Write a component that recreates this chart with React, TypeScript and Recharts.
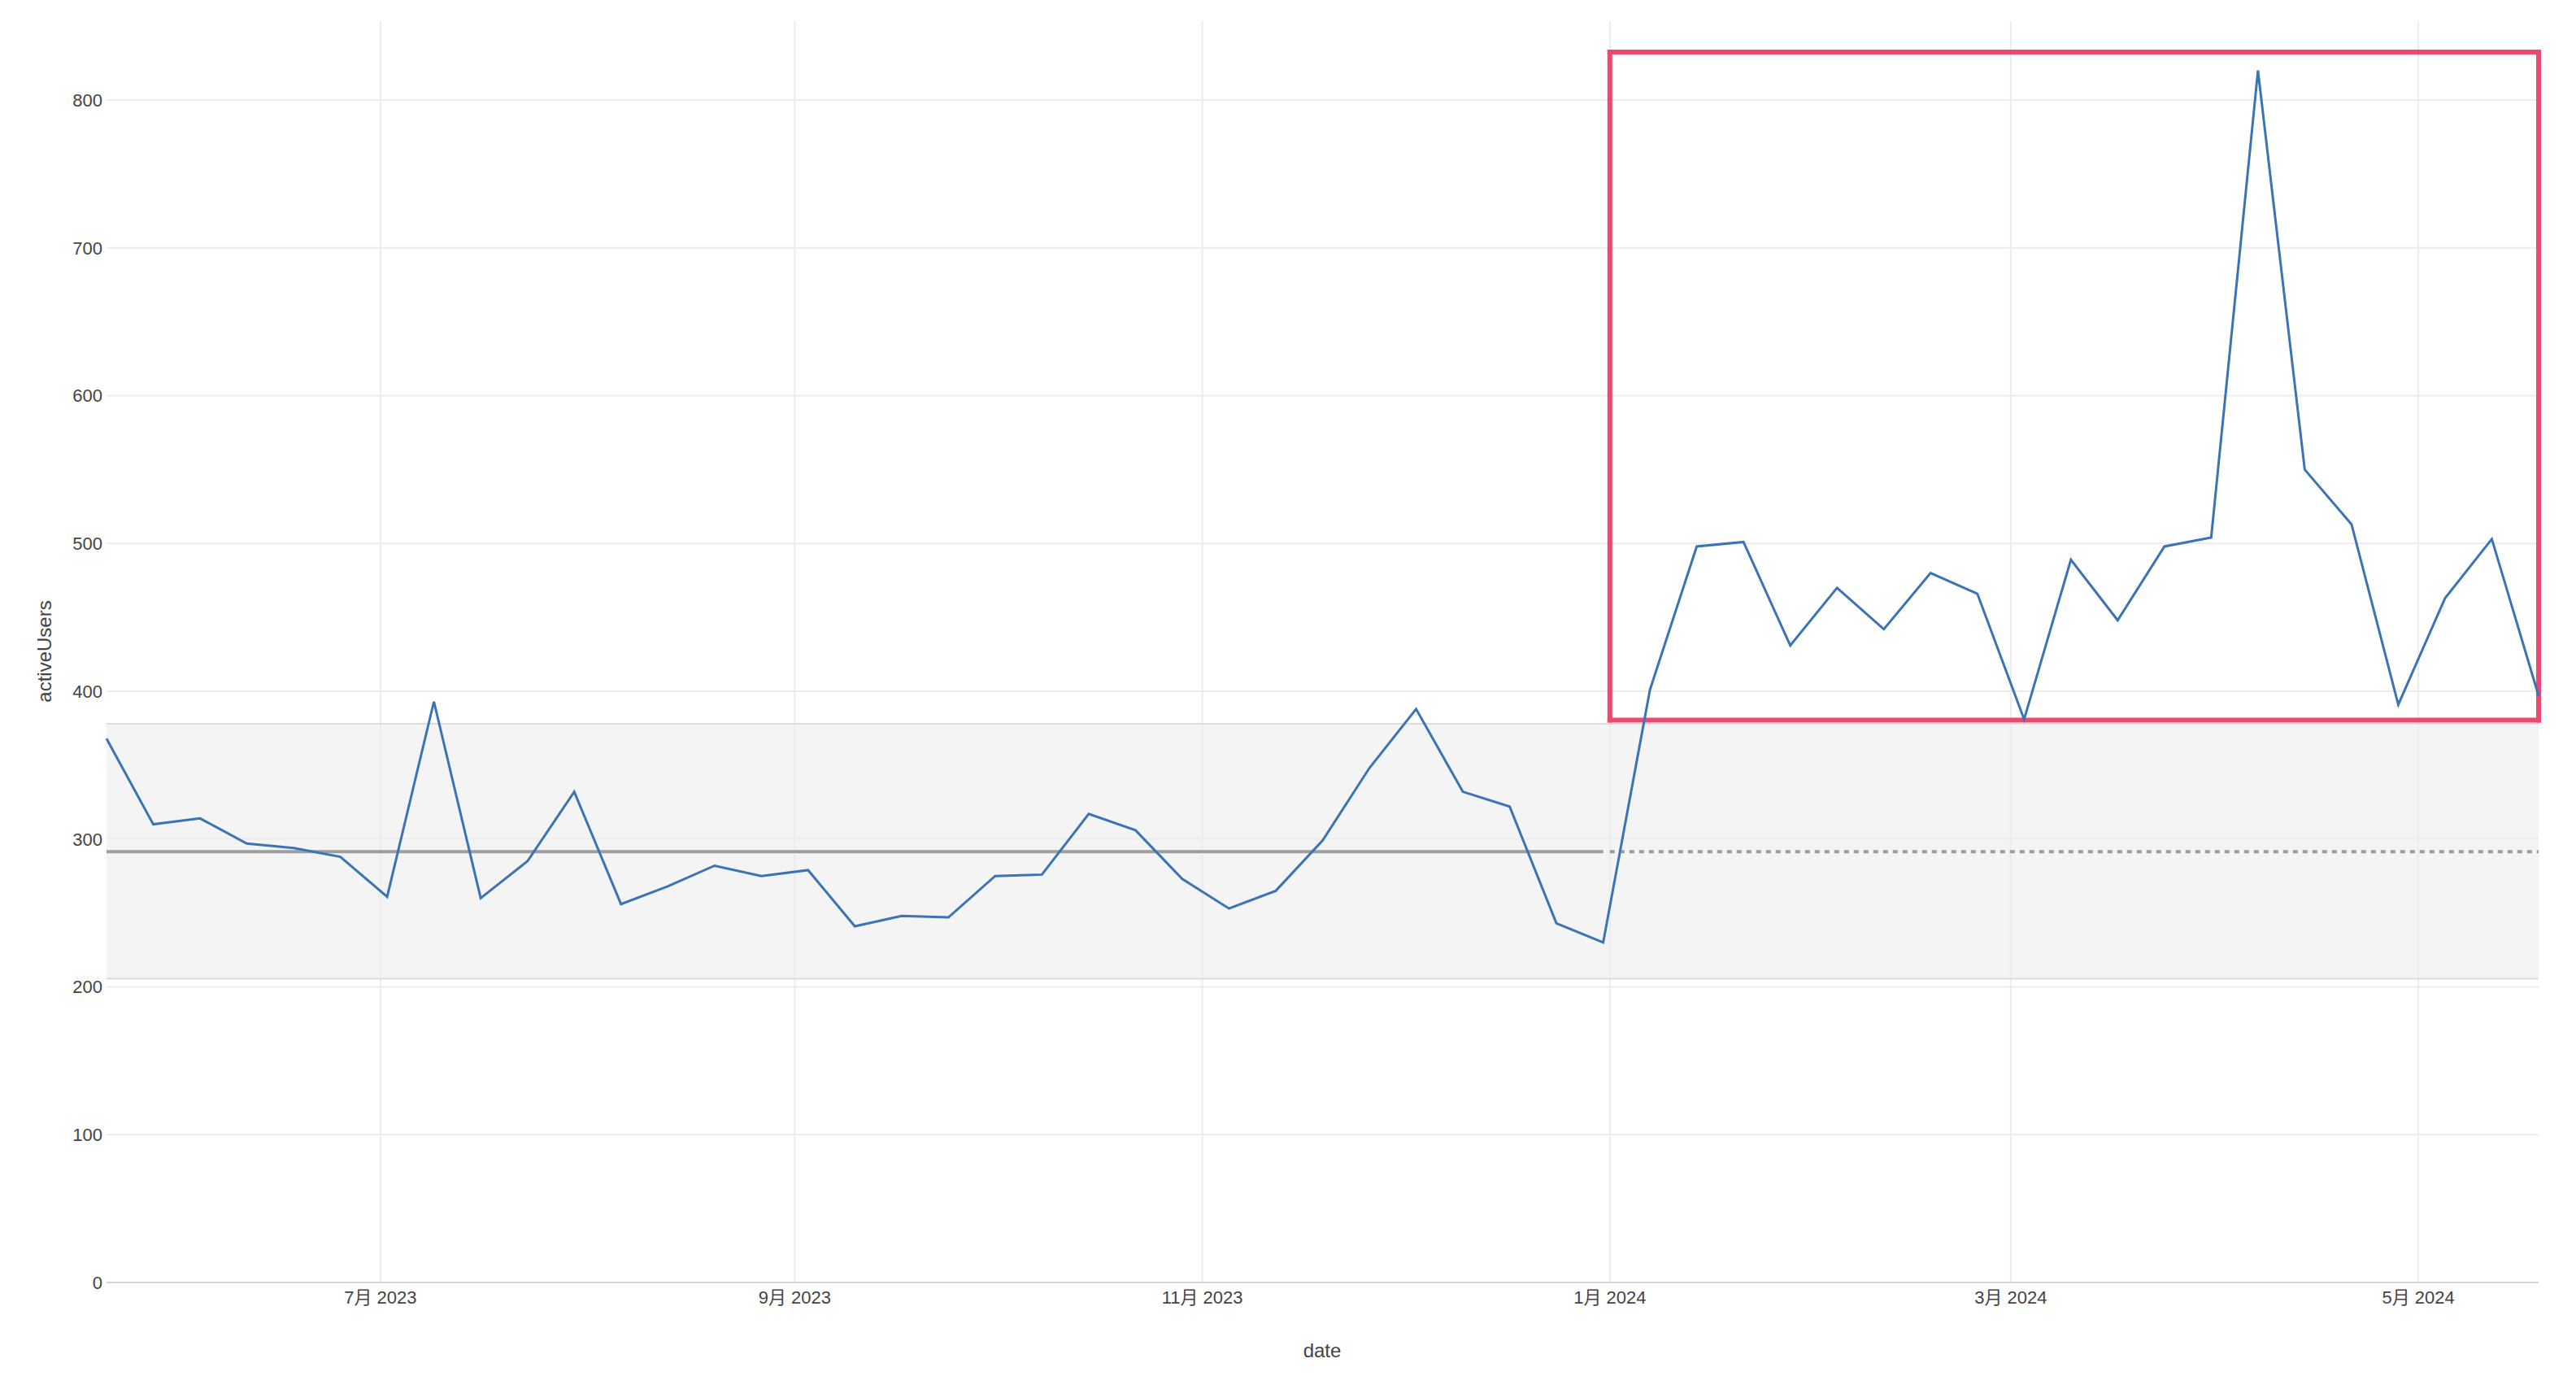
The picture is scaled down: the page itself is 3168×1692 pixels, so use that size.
import React from 'react'
import {
  LineChart,
  Line,
  XAxis,
  YAxis,
  ReferenceArea,
  ReferenceLine,
} from 'recharts'

// weekly buckets (week start, Sunday)
const weeks = [
  '2023-05-21', '2023-05-28', '2023-06-04', '2023-06-11', '2023-06-18', '2023-06-25',
  '2023-07-02', '2023-07-09', '2023-07-16', '2023-07-23', '2023-07-30', '2023-08-06',
  '2023-08-13', '2023-08-20', '2023-08-27', '2023-09-03', '2023-09-10', '2023-09-17',
  '2023-09-24', '2023-10-01', '2023-10-08', '2023-10-15', '2023-10-22', '2023-10-29',
  '2023-11-05', '2023-11-12', '2023-11-19', '2023-11-26', '2023-12-03', '2023-12-10',
  '2023-12-17', '2023-12-24', '2023-12-31', '2024-01-07', '2024-01-14', '2024-01-21',
  '2024-01-28', '2024-02-04', '2024-02-11', '2024-02-18', '2024-02-25', '2024-03-03',
  '2024-03-10', '2024-03-17', '2024-03-24', '2024-03-31', '2024-04-07', '2024-04-14',
  '2024-04-21', '2024-04-28', '2024-05-05', '2024-05-12', '2024-05-19',
]

const activeUsers = [
  368, 310, 314, 297, 294, 288, 261, 393, 260, 285, 332, 256,
  268, 282, 275, 279, 241, 248, 247, 275, 276, 317, 306, 273,
  253, 265, 299, 348, 388, 332, 322, 243, 230, 401, 498, 501,
  431, 470, 442, 480, 466, 381, 489, 448, 498, 504, 820, 550,
  513, 391, 463, 503, 397,
]

const tickDates = ['2023-07-01', '2023-09-01', '2023-11-01', '2024-01-01', '2024-03-01', '2024-05-01']
const tickLabels = ['7月 2023', '9月 2023', '11月 2023', '1月 2024', '3月 2024', '5月 2024']
const yTicks = [0, 100, 200, 300, 400, 500, 600, 700, 800]

// baseline stats for 2023 and the 2024 highlight box
const meanValue = 291.5
const bandLow = 205.5
const bandHigh = 378
const baselineEnd = '2023-12-31'
const projectionStart = '2024-01-01'
const highlightLow = 380.5
const highlightHigh = 832.5

const ts = (d: string) => new Date(d).getTime()

const data = weeks.map((w, i) => ({ date: ts(w), activeUsers: activeUsers[i] }))
const xTicks = tickDates.map(ts)
const firstDate = ts(weeks[0])
const lastDate = ts(weeks[weeks.length - 1])

// highlight box corners (data space)
const hx1 = ts(projectionStart)
const hx2 = lastDate
const boxEdges = [
  [{ x: hx1, y: highlightLow }, { x: hx2, y: highlightLow }],
  [{ x: hx1, y: highlightHigh }, { x: hx2, y: highlightHigh }],
  [{ x: hx1, y: highlightLow }, { x: hx1, y: highlightHigh }],
  [{ x: hx2, y: highlightLow }, { x: hx2, y: highlightHigh }],
]

const FONT = '"Liberation Sans", Arial, "Noto Sans CJK JP", sans-serif'
const TEXT = '#444'
const GRID = '#ececec'
const RED = '#e94a6e'

export default function App() {
  return (
    <div style={{ position: 'absolute', left: 0, top: 0, width: 3168, height: 1692, background: '#fff' }}>
      <LineChart
        width={3168}
        height={1692}
        data={data}
        margin={{ top: 26, right: 46, left: 0, bottom: 0 }}
        style={{ fontFamily: FONT }}
      >
        {/* grid */}
        {yTicks.map((t) => (
          <ReferenceLine key={'gy' + t} y={t} stroke={GRID} strokeWidth={2} />
        ))}
        {xTicks.map((t) => (
          <ReferenceLine key={'gx' + t} x={t} stroke={GRID} strokeWidth={2} />
        ))}

        <ReferenceArea y1={bandLow} y2={bandHigh} fill="#000" fillOpacity={0.045} stroke="none" />
        <ReferenceLine y={bandHigh} stroke="#dcdcdc" strokeWidth={2} />
        <ReferenceLine y={bandLow} stroke="#dcdcdc" strokeWidth={2} />
        <ReferenceLine
          segment={[{ x: firstDate, y: meanValue }, { x: ts(baselineEnd), y: meanValue }]}
          stroke="#9e9e9e"
          strokeWidth={4}
        />
        <ReferenceLine
          segment={[{ x: ts(projectionStart), y: meanValue }, { x: lastDate, y: meanValue }]}
          stroke="#9e9e9e"
          strokeWidth={4}
          strokeDasharray="6 6"
        />

        {boxEdges.map((seg, i) => (
          <ReferenceLine
            key={'box' + i}
            segment={seg}
            stroke={RED}
            strokeWidth={6}
            strokeLinecap="square"
            ifOverflow="visible"
          />
        ))}

        <XAxis
          dataKey="date"
          type="number"
          scale="time"
          domain={[firstDate, lastDate]}
          ticks={xTicks}
          tickFormatter={(v: number) => tickLabels[xTicks.indexOf(v)]}
          height={115}
          tickLine={false}
          tickSize={0}
          tickMargin={10}
          axisLine={{ stroke: '#d4d4d4', strokeWidth: 2 }}
          tick={{ fill: TEXT, fontSize: 22, fontFamily: FONT }}
          label={{
            content: () => (
              <text x={1626} y={1669} textAnchor="middle" fill={TEXT} fontSize={24} fontFamily={FONT}>
                date
              </text>
            ),
          }}
        />
        <YAxis
          type="number"
          domain={[0, 853.4]}
          ticks={yTicks}
          width={131}
          tickLine={false}
          tickSize={0}
          tickMargin={5}
          axisLine={false}
          tick={{ fill: TEXT, fontSize: 22, fontFamily: FONT }}
          label={{
            content: () => (
              <text
                x={63}
                y={801}
                transform="rotate(-90 63 801)"
                textAnchor="middle"
                fill={TEXT}
                fontSize={24}
                fontFamily={FONT}
              >
                activeUsers
              </text>
            ),
          }}
        />
        <Line
          type="linear"
          dataKey="activeUsers"
          stroke="#3b73b4"
          strokeWidth={3}
          dot={false}
          activeDot={false}
          isAnimationActive={false}
        />
      </LineChart>
    </div>
  )
}
